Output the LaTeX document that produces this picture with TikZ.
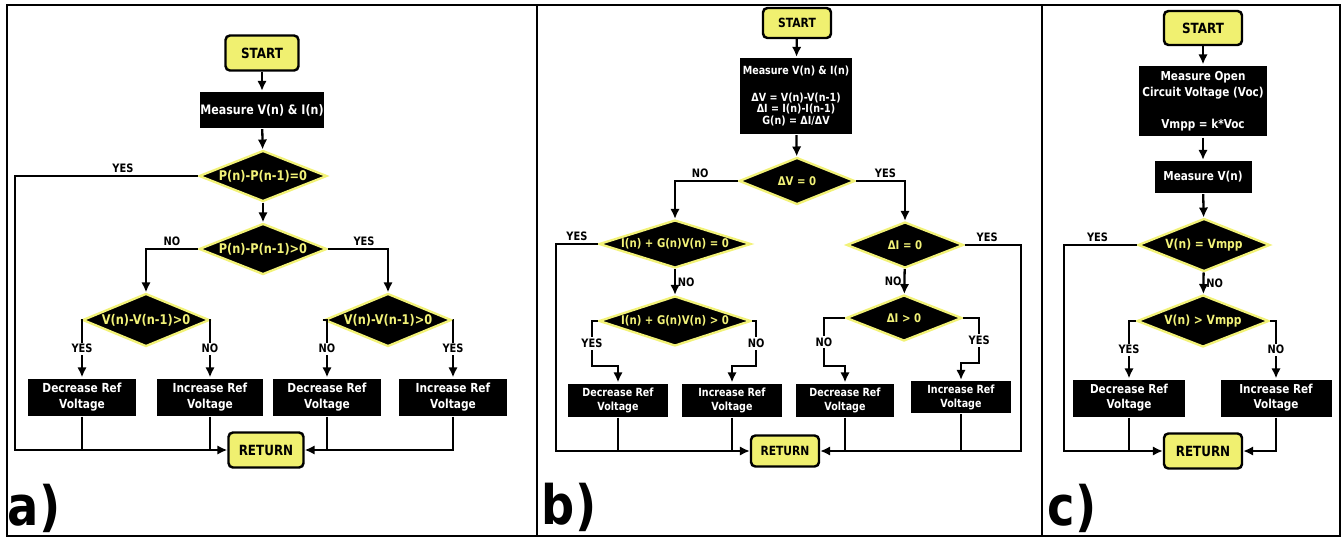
\documentclass[tikz,border=0pt]{standalone}
\usepackage{fontspec}
\setmainfont{DejaVu Sans}[FakeStretch=0.85]
\usetikzlibrary{shapes.geometric}
\usetikzlibrary{arrows.meta}
\definecolor{termyellow}{RGB}{240,240,112}
\definecolor{decyellow}{RGB}{242,242,120}

\begin{document}
\begin{tikzpicture}[x=0.02cm,y=-0.02cm,line width=1.3pt,
  term/.style={draw=black,fill=termyellow,rounded corners=2.5pt,line width=1.4pt,inner sep=0pt,font=\bfseries\fontsize{8}{9}\selectfont},
  proc/.style={fill=black,text=white,align=center,inner sep=0pt,font=\bfseries\fontsize{7.1}{9.4}\selectfont},
  dec/.style={diamond,aspect=#1,fill=black,draw=decyellow,text=decyellow,inner sep=0pt,font=\bfseries\fontsize{7.6}{9}\selectfont},
  lbl/.style={fill=white,inner sep=1pt,font=\bfseries\fontsize{6.6}{7}\selectfont},
  arr/.style={-{Latex[length=2mm,width=1.9mm]}},
  panel/.style={inner sep=0pt,font=\bfseries\fontsize{31}{33}\selectfont}]
\useasboundingbox (0,0) rectangle (1343,538);

% frames
\draw (7,5) rectangle (1340,536);
\draw (537,5) -- (537,536);
\draw (1042,5) -- (1042,536);

% a) perturb and observe
\node[term] (astart) at (262,53) [minimum width=1.46cm,minimum height=0.70cm] {START};
\node[proc] (ameas) at (262,110) [minimum width=2.48cm,minimum height=0.72cm,font=\bfseries\fontsize{7.4}{9}\selectfont] {Measure V(n) \& I(n)};
\node[dec=2.5] (ad1) at (263,176) [minimum width=2.56cm,minimum height=1.02cm] {P(n)-P(n-1)=0};
\node[dec=2.5] (ad2) at (263,249) [minimum width=2.56cm,minimum height=1.02cm] {P(n)-P(n-1)>0};
\node[dec=2.4] (ad3) at (146,320) [minimum width=2.54cm,minimum height=1.06cm] {V(n)-V(n-1)>0};
\node[dec=2.4] (ad4) at (388,320) [minimum width=2.54cm,minimum height=1.06cm] {V(n)-V(n-1)>0};
\node[proc] (adec1) at (82,397) [minimum width=2.18cm,minimum height=0.74cm] {Decrease Ref\\Voltage};
\node[proc] (ainc1) at (210,397) [minimum width=2.14cm,minimum height=0.74cm] {Increase Ref\\Voltage};
\node[proc] (adec2) at (327,397) [minimum width=2.18cm,minimum height=0.74cm] {Decrease Ref\\Voltage};
\node[proc] (ainc2) at (453,397) [minimum width=2.16cm,minimum height=0.74cm] {Increase Ref\\Voltage};
\node[term] (aret) at (266,450) [minimum width=1.50cm,minimum height=0.70cm] {RETURN};
\node[panel] (alab) at (34,508) {a)};
\coordinate (aL) at (15,176);

\draw[arr] (astart) -- (ameas);
\draw[arr] (ameas) -- (ad1);
\draw[arr] (ad1) -- (ad2);
\draw[arr] (ad1.west) -- node[lbl,above,pos=0.41]{YES} (aL) |- (aret.west);
\draw[arr] (ad2.west) -| node[lbl,above,pos=0.25]{NO} (ad3.north);
\draw[arr] (ad2.east) -| node[lbl,above,pos=0.3]{YES} (ad4.north);
\draw[arr] (ad3.west) -| node[lbl,pos=0.75]{YES} (adec1.north);
\draw[arr] (ad3.east) -| node[lbl,pos=0.75]{NO} (ainc1.north);
\draw[arr] (ad4.west) -| node[lbl,pos=0.75]{NO} (adec2.north);
\draw[arr] (ad4.east) -| node[lbl,pos=0.75]{YES} (ainc2.north);
\draw (adec1.south) -- (adec1.south |- aret.west);
\draw (ainc1.south) -- (ainc1.south |- aret.west);
\draw (adec2.south) -- (adec2.south |- aret.east);
\draw[arr] (ainc2.south) |- (aret.east);

% b) incremental conductance
\begin{scope}[proc/.append style={font=\bfseries\fontsize{6.4}{7.9}\selectfont},
  dec/.append style={font=\bfseries\fontsize{6.8}{8}\selectfont},
  term/.append style={font=\bfseries\fontsize{7.2}{8}\selectfont}]
\node[term] (bstart) at (797,23) [minimum width=1.36cm,minimum height=0.60cm] {START};
\node[proc] (bmeas) at (796,96) [minimum width=2.26cm,minimum height=1.52cm,font=\bfseries\fontsize{6.4}{6.8}\selectfont] {Measure V(n) \& I(n)\\[8.5pt]ΔV = V(n)-V(n-1)\\ΔI = I(n)-I(n-1)\\G(n) = ΔI/ΔV};
\node[dec=2.47] (bdv) at (797,181) [minimum width=2.32cm,minimum height=0.94cm] {ΔV = 0};
\node[dec=3.17] (bd1) at (675,244) [minimum width=3.04cm,minimum height=0.96cm] {I(n) + G(n)V(n) = 0};
\node[dec=2.5] (bd2) at (905,245) [minimum width=2.34cm,minimum height=0.92cm] {ΔI = 0};
\node[dec=3.04] (bd3) at (675,321) [minimum width=3.04cm,minimum height=1.00cm] {I(n) + G(n)V(n) > 0};
\node[dec=2.5] (bd4) at (904,318) [minimum width=2.32cm,minimum height=0.92cm] {ΔI > 0};
\node[proc] (bdec1) at (618,400) [minimum width=2.02cm,minimum height=0.66cm] {Decrease Ref\\Voltage};
\node[proc] (binc1) at (732,400) [minimum width=2.00cm,minimum height=0.66cm] {Increase Ref\\Voltage};
\node[proc] (bdec2) at (845,400) [minimum width=1.98cm,minimum height=0.66cm] {Decrease Ref\\Voltage};
\node[proc] (binc2) at (961,397) [minimum width=2.00cm,minimum height=0.64cm] {Increase Ref\\Voltage};
\node[term] (bret) at (785,451) [minimum width=1.36cm,minimum height=0.62cm] {RETURN};
\node[panel] (blab) at (569,507) {b)};
\coordinate (bL) at (556,244);
\coordinate (bR) at (1021,245);

\draw[arr] (bstart) -- (bmeas);
\draw[arr] (bmeas) -- (bdv);
\draw[arr] (bdv.west) -| node[lbl,above,pos=0.3]{NO} (bd1.north);
\draw[arr] (bdv.east) -| node[lbl,above,pos=0.3]{YES} (bd2.north);
\draw[arr] (bd1.west) -- node[lbl,above]{YES} (bL) |- (bret.west);
\draw[arr] (bd2.east) -- node[lbl,above,pos=0.4]{YES} (bR) |- (bret.east);
\draw[arr] (bd1) -- node[lbl,right,fill=none]{NO} (bd3);
\draw[arr] (bd2) -- node[lbl,left,fill=none]{NO} (bd4);
\draw[arr] (bd3.west) -- ++(-6,0) -- node[lbl]{YES} ++(0,45) -| (bdec1.north);
\draw[arr] (bd3.east) -- ++(4,0) -- node[lbl]{NO} ++(0,45) -| (binc1.north);
\draw[arr] (bd4.west) -- ++(-21,0) -- node[lbl]{NO} ++(0,48) -| (bdec2.north);
\draw[arr] (bd4.east) -- ++(16,0) -- node[lbl]{YES} ++(0,45) -| (binc2.north);
\draw (bdec1.south) -- (bdec1.south |- bret.west);
\draw (binc1.south) -- (binc1.south |- bret.west);
\draw (bdec2.south) -- (bdec2.south |- bret.east);
\draw (binc2.south) -- (binc2.south |- bret.east);
\end{scope}

% c) fractional open circuit voltage
\begin{scope}[proc/.append style={font=\bfseries\fontsize{7}{8.5}\selectfont},
  dec/.append style={font=\bfseries\fontsize{7.2}{8}\selectfont}]
\node[term] (cstart) at (1203,28) [minimum width=1.56cm,minimum height=0.68cm] {START};
\node[proc] (cmeas) at (1203,101) [minimum width=2.58cm,minimum height=1.42cm,font=\bfseries\fontsize{7}{9}\selectfont] {Measure Open\\Circuit Voltage (Voc)\\[9pt]Vmpp = k*Voc};
\node[proc] (cmv) at (1203,177) [minimum width=1.94cm,minimum height=0.64cm] {Measure V(n)};
\node[dec=2.5] (cd1) at (1204,245) [minimum width=2.64cm,minimum height=1.06cm] {V(n) = Vmpp};
\node[dec=2.5] (cd2) at (1203,321) [minimum width=2.64cm,minimum height=1.04cm] {V(n) > Vmpp};
\node[proc] (cdec) at (1129,398) [minimum width=2.26cm,minimum height=0.74cm] {Decrease Ref\\Voltage};
\node[proc] (cinc) at (1276,398) [minimum width=2.22cm,minimum height=0.74cm] {Increase Ref\\Voltage};
\node[term] (cret) at (1203,451) [minimum width=1.56cm,minimum height=0.70cm] {RETURN};
\node[panel] (clab) at (1072,508) {c)};
\coordinate (cL) at (1064,245);

\draw[arr] (cstart) -- (cmeas);
\draw[arr] (cmeas) -- (cmv);
\draw[arr] (cmv) -- (cd1);
\draw[arr] (cd1.west) -- node[lbl,above,pos=0.54]{YES} (cL) |- (cret.west);
\draw[arr] (cd1) -- node[lbl,right,fill=none]{NO} (cd2);
\draw[arr] (cd2.west) -| node[lbl,pos=0.75]{YES} (cdec.north);
\draw[arr] (cd2.east) -| node[lbl,pos=0.75]{NO} (cinc.north);
\draw (cdec.south) -- (cdec.south |- cret.west);
\draw[arr] (cinc.south) |- (cret.east);
\end{scope}
\end{tikzpicture}
\end{document}
